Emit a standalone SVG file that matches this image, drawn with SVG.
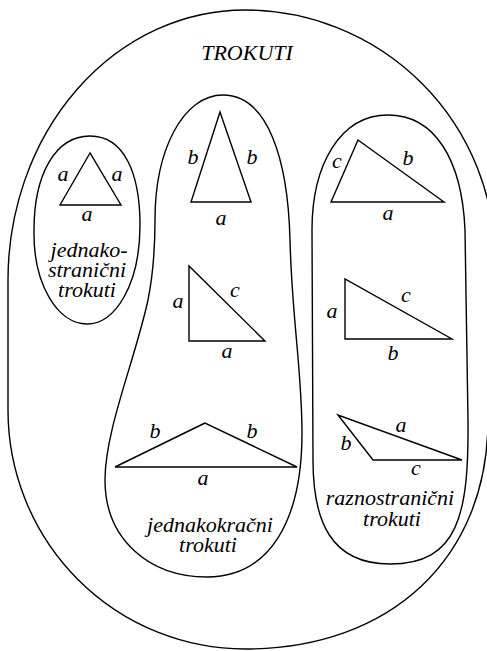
<svg xmlns="http://www.w3.org/2000/svg" width="487" height="651" viewBox="0 0 487 651">
<style>
.ln{fill:none;stroke:#000;stroke-width:1.4;stroke-linejoin:miter}
.t{font-family:"Liberation Serif","Times New Roman",serif;font-style:italic;font-size:22px;fill:#000;text-anchor:middle}
</style>
<rect width="487" height="651" fill="#fff"/>
<g id="trokuti">
<path class="ln" d="M 8,410 L 8,280 A 237,270 0 0 1 245,10 A 250,250 0 0 1 495,260 L 488,420 C 488,558 391,649 245,649 A 237,239 0 0 1 8,410 Z"/>
<text class="t" x="247" y="60">TROKUTI</text>
</g>
<g id="jednakostranicni">
<path class="ln" d="M 90,136 C 125,136 140,175 140,225 C 140,285 115,324 87,324 C 58,324 33,285 34,230 C 34,175 55,136 90,136 Z"/>
<text class="t" x="89" y="257">jednako-</text>
<text class="t" x="87" y="277">stranični</text>
<text class="t" x="87" y="297">trokuti</text>
</g>
<g id="tri-equilateral">
<polygon class="ln" points="90,153 60,205 121,205"/>
<text class="t" x="63" y="181">a</text>
<text class="t" x="117" y="181">a</text>
<text class="t" x="87" y="221">a</text>
</g>
<g id="jednakokracni">
<path class="ln" d="M 223,95 C 268,95 288,160 290,240 C 292,320 302,370 302,433 C 302,520 270,577 207,577 C 150,577 105,540 105,480 C 105,430 135,360 148,300 C 153,275 155,250 155,220 C 155,150 183,95 223,95 Z"/>
<text class="t" x="210" y="532">jednakokračni</text>
<text class="t" x="208" y="552">trokuti</text>
</g>
<g id="tri-isosceles-acute">
<polygon class="ln" points="220,112 191,202 251,202"/>
<text class="t" x="193" y="164">b</text>
<text class="t" x="252" y="164">b</text>
<text class="t" x="221" y="225">a</text>
</g>
<g id="tri-isosceles-right">
<polygon class="ln" points="189,266 189,341 265,341"/>
<text class="t" x="178" y="308">a</text>
<text class="t" x="235" y="297">c</text>
<text class="t" x="227" y="358">a</text>
</g>
<g id="tri-isosceles-obtuse">
<polygon class="ln" points="205,423 115,467 297,467"/>
<text class="t" x="155" y="438">b</text>
<text class="t" x="252" y="438">b</text>
<text class="t" x="203" y="485">a</text>
</g>
<g id="raznostranicni">
<path class="ln" d="M 388,115 C 435,115 462,160 465,230 L 468,420 C 469,515 458,564 390,564 C 330,564 313,520 313,460 L 312,230 C 312,165 340,115 388,115 Z"/>
<text class="t" x="390" y="505">raznostranični</text>
<text class="t" x="392" y="526">trokuti</text>
</g>
<g id="tri-scalene-acute">
<polygon class="ln" points="358,140 331,202 444,202"/>
<text class="t" x="337" y="168">c</text>
<text class="t" x="408" y="165">b</text>
<text class="t" x="388" y="220">a</text>
</g>
<g id="tri-scalene-right">
<polygon class="ln" points="345,279 345,339 452,339"/>
<text class="t" x="332" y="318">a</text>
<text class="t" x="406" y="302">c</text>
<text class="t" x="393" y="360">b</text>
</g>
<g id="tri-scalene-obtuse">
<polygon class="ln" points="338,415 373,460 462,460"/>
<text class="t" x="346" y="450">b</text>
<text class="t" x="401" y="432">a</text>
<text class="t" x="416" y="475">c</text>
</g>
<g id="connectors"/>
</svg>
